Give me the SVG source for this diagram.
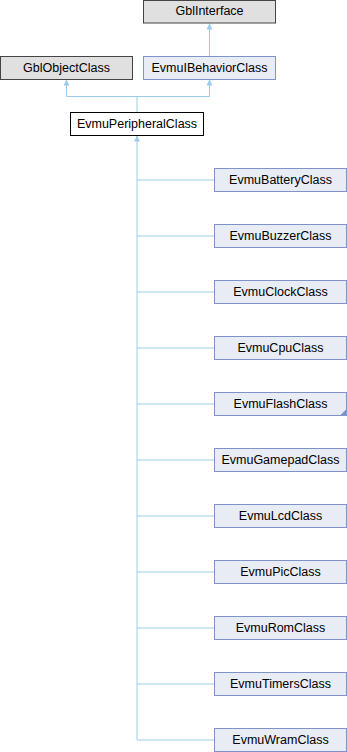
<svg xmlns="http://www.w3.org/2000/svg" width="347" height="752" viewBox="0 0 347 752">
<style>
.t{font-family:"Liberation Sans",Arial,sans-serif;font-size:12.5px;fill:#000;text-anchor:middle}
.g{fill:#e0e0e0;stroke:#444;stroke-width:1}
.b{fill:#e8ecf5;stroke:#7f93c8;stroke-width:1}
.w{fill:#fff;stroke:#000;stroke-width:1}
.e{fill:none;stroke:#9ccbe9;stroke-width:1}
</style>
<defs>
<marker id="ah" markerUnits="userSpaceOnUse" markerWidth="8" markerHeight="8" refX="6" refY="3" orient="auto-start-reverse">
<path d="M0,0 L6,3 L0,6 z" fill="#9ccbe9"/>
</marker>
</defs>
<g id="connectors">
<path class="e" marker-start="url(#ah)" d="M209.5,23.5 V56.5"/>
<path class="e" marker-start="url(#ah)" d="M66.5,79.5 V96.5 H137"/>
<path class="e" marker-start="url(#ah)" d="M209.5,79.5 V96.5 H137 V112.5"/>
<path class="e" marker-start="url(#ah)" d="M137,135.5 V740"/>
<path class="e" d="M137,180 H214.5 M137,236 H214.5 M137,292 H214.5 M137,348 H214.5 M137,404 H214.5 M137,460 H214.5 M137,516 H214.5 M137,572 H214.5 M137,628 H214.5 M137,684 H214.5 M137,740 H214.5"/>
</g>
<g id="GblInterface"><rect class="g" x="143.5" y="0.5" width="132" height="22.5"/><text class="t" x="209.5" y="15">GblInterface</text></g>
<g id="GblObjectClass"><rect class="g" x="0.5" y="56.5" width="132" height="23"/><text class="t" x="66.5" y="71.5">GblObjectClass</text></g>
<g id="EvmuIBehaviorClass"><rect class="b" x="143.5" y="56.5" width="132" height="23"/><text class="t" x="209.5" y="71.5">EvmuIBehaviorClass</text></g>
<g id="EvmuPeripheralClass"><rect class="w" x="70.5" y="112.5" width="133" height="23"/><text class="t" x="137" y="127.5">EvmuPeripheralClass</text></g>
<g id="EvmuBatteryClass"><rect class="b" x="214.5" y="168.5" width="132" height="23"/><text class="t" x="280.5" y="183.5">EvmuBatteryClass</text></g>
<g id="EvmuBuzzerClass"><rect class="b" x="214.5" y="224.5" width="132" height="23"/><text class="t" x="280.5" y="239.5">EvmuBuzzerClass</text></g>
<g id="EvmuClockClass"><rect class="b" x="214.5" y="280.5" width="132" height="23"/><text class="t" x="280.5" y="295.5">EvmuClockClass</text></g>
<g id="EvmuCpuClass"><rect class="b" x="214.5" y="336.5" width="132" height="23"/><text class="t" x="280.5" y="351.5">EvmuCpuClass</text></g>
<g id="EvmuFlashClass"><rect class="b" x="214.5" y="392.5" width="132" height="23"/><path d="M346.5,409 V415.5 H340 z" fill="#7f93c8"/><text class="t" x="280.5" y="407.5">EvmuFlashClass</text></g>
<g id="EvmuGamepadClass"><rect class="b" x="214.5" y="448.5" width="132" height="23"/><text class="t" x="280.5" y="463.5">EvmuGamepadClass</text></g>
<g id="EvmuLcdClass"><rect class="b" x="214.5" y="504.5" width="132" height="23"/><text class="t" x="280.5" y="519.5">EvmuLcdClass</text></g>
<g id="EvmuPicClass"><rect class="b" x="214.5" y="560.5" width="132" height="23"/><text class="t" x="280.5" y="575.5">EvmuPicClass</text></g>
<g id="EvmuRomClass"><rect class="b" x="214.5" y="616.5" width="132" height="23"/><text class="t" x="280.5" y="631.5">EvmuRomClass</text></g>
<g id="EvmuTimersClass"><rect class="b" x="214.5" y="672.5" width="132" height="23"/><text class="t" x="280.5" y="687.5">EvmuTimersClass</text></g>
<g id="EvmuWramClass"><rect class="b" x="214.5" y="728.5" width="132" height="23"/><text class="t" x="280.5" y="743.5">EvmuWramClass</text></g>
</svg>
